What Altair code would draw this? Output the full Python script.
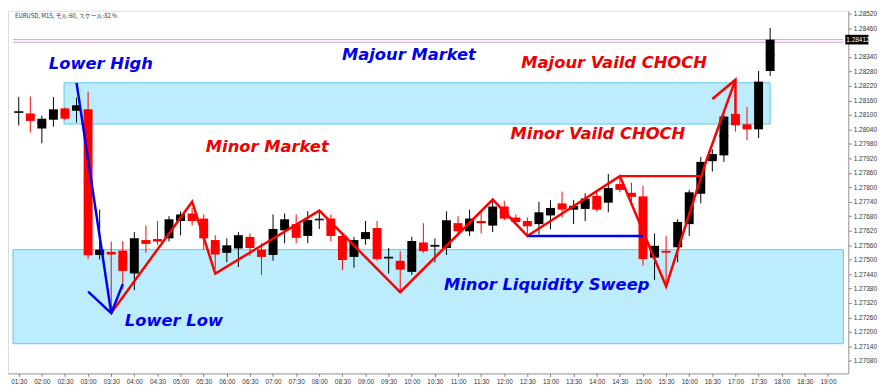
import json
import altair as alt
import pandas as pd

# ---- candle data (15-minute candles, index 0 = 01:30) ----
opens = [1.28110, 1.28106, 1.28044, 1.28080, 1.28127, 1.28117, 1.28123, 1.27519, 1.27532, 1.27537,
         1.27442, 1.27581, 1.27585, 1.27588, 1.27660, 1.27691, 1.27670, 1.27581, 1.27528, 1.27546,
         1.27594, 1.27541, 1.27519, 1.27621, 1.27647, 1.27598, 1.27665, 1.27670, 1.27598, 1.27511,
         1.27585, 1.27631, 1.27506, 1.27495, 1.27449, 1.27571, 1.27555, 1.27548, 1.27651, 1.27617,
         1.27660, 1.27641, 1.27720, 1.27674, 1.27660, 1.27647, 1.27683, 1.27733, 1.27707, 1.27710,
         1.27764, 1.27736, 1.27813, 1.27777, 1.27762, 1.27508, 1.27535, 1.27551, 1.27647, 1.27773,
         1.27908, 1.27932, 1.28104, 1.28061, 1.28040, 1.28282]
highs = [1.28175, 1.28176, 1.28097, 1.28174, 1.28131, 1.28171, 1.28196, 1.27707, 1.27575, 1.27577,
         1.27614, 1.27641, 1.27660, 1.27680, 1.27700, 1.27714, 1.27687, 1.27601, 1.27588, 1.27614,
         1.27608, 1.27568, 1.27687, 1.27691, 1.27687, 1.27700, 1.27700, 1.27687, 1.27608, 1.27594,
         1.27660, 1.27660, 1.27548, 1.27535, 1.27594, 1.27651, 1.27588, 1.27700, 1.27680, 1.27707,
         1.27700, 1.27753, 1.27744, 1.27687, 1.27675, 1.27740, 1.27746, 1.27782, 1.27746, 1.27775,
         1.27786, 1.27855, 1.27842, 1.27819, 1.27806, 1.27608, 1.27598, 1.27667, 1.27789, 1.27925,
         1.27958, 1.28100, 1.28110, 1.28133, 1.28282, 1.28461]
lows = [1.28056, 1.28027, 1.27982, 1.28051, 1.28078, 1.28068, 1.27502, 1.27500, 1.27278, 1.27377,
        1.27373, 1.27528, 1.27561, 1.27575, 1.27601, 1.27641, 1.27541, 1.27461, 1.27489, 1.27469,
        1.27516, 1.27436, 1.27495, 1.27568, 1.27568, 1.27568, 1.27627, 1.27575, 1.27456, 1.27466,
        1.27561, 1.27495, 1.27442, 1.27363, 1.27436, 1.27528, 1.27489, 1.27519, 1.27604, 1.27598,
        1.27608, 1.27614, 1.27663, 1.27647, 1.27599, 1.27604, 1.27625, 1.27674, 1.27647, 1.27660,
        1.27700, 1.27696, 1.27779, 1.27727, 1.27475, 1.27416, 1.27396, 1.27489, 1.27598, 1.27733,
        1.27865, 1.27905, 1.28031, 1.27995, 1.28004, 1.28262]
closes = [1.28113, 1.28075, 1.28084, 1.28123, 1.28084, 1.28140, 1.27518, 1.27541, 1.27521, 1.27453,
          1.27588, 1.27565, 1.27575, 1.27667, 1.27687, 1.27660, 1.27588, 1.27521, 1.27559, 1.27601,
          1.27548, 1.27511, 1.27627, 1.27667, 1.27590, 1.27664, 1.27667, 1.27598, 1.27498, 1.27581,
          1.27614, 1.27502, 1.27510, 1.27458, 1.27577, 1.27535, 1.27559, 1.27663, 1.27617, 1.27670,
          1.27651, 1.27720, 1.27670, 1.27656, 1.27638, 1.27696, 1.27714, 1.27707, 1.27723, 1.27753,
          1.27707, 1.27797, 1.27789, 1.27760, 1.27502, 1.27557, 1.27530, 1.27656, 1.27779, 1.27905,
          1.27938, 1.28093, 1.28057, 1.28040, 1.28238, 1.28412]

# ---- axis labels ----
tick_labels = ["01:30", "02:00", "02:30", "03:00", "03:30", "04:00", "04:30", "05:00", "05:30",
               "06:00", "06:30", "07:00", "07:30", "08:00", "08:30", "09:00", "09:30", "10:00",
               "10:30", "11:00", "11:30", "12:00", "12:30", "13:00", "13:30", "14:00", "14:30",
               "15:00", "15:30", "16:00", "16:30", "17:00", "17:30", "18:00", "18:30", "19:00"]
price_ticks = [1.27080, 1.27140, 1.27200, 1.27260, 1.27320, 1.27380, 1.27440, 1.27500, 1.27560,
               1.27620, 1.27680, 1.27740, 1.27800, 1.27860, 1.27920, 1.27980, 1.28040, 1.28100,
               1.28160, 1.28220, 1.28280, 1.28340, 1.28460, 1.28520]
current_price = 1.28412
info_text = "EURUSD, M15, モル:60, スケール:82 %"

# ---- zones ----
zone_x = [3.92, -0.5]
zone_x2 = [65.0, 71.33]
zone_y = [1.28233, 1.27541]
zone_y2 = [1.28062, 1.27151]
purple_levels = [1.28412, 1.28401]

# ---- annotation lines ----
red_path_x = [8.0, 15.0, 17.0, 26.0, 33.0, 41.0, 44.0, 52.0, 56.0, 59.5, 62.0]
red_path_y = [1.27278, 1.27740, 1.27442, 1.27703, 1.27365, 1.27749, 1.27598, 1.27846, 1.27389, 1.27913, 1.28246]
red_level_x = [52.0, 59.1]
red_level_y = [1.27846, 1.27846]
red_head_x = [60.0, 62.0, 62.0]
red_head_y = [1.28166, 1.28246, 1.28104]
blue_path_x = [5.0, 8.0]
blue_path_y = [1.28233, 1.27278]
blue_head_x = [6.0, 8.0, 9.0]
blue_head_y = [1.27367, 1.27278, 1.27398]
blue_level_x = [44.0, 54.0]
blue_level_y = [1.27598, 1.27598]

# ---- annotation texts ----
note_text = ["Lower High", "Majour Market", "Majour Vaild CHOCH", "Minor Market",
             "Minor Vaild CHOCH", "Minor Liquidity Sweep", "Lower Low"]
note_x = [7.1, 33.75, 51.5, 21.5, 50.1, 45.67, 13.42]
note_y = [1.28289, 1.28326, 1.28295, 1.27948, 1.27998, 1.27373, 1.27226]
note_col = ["#0000f0", "#0000f0", "#f00000", "#f00000", "#f00000", "#0000f0", "#0000f0"]

# ---------------------------------------------------------------
RED = "#ff0000"
BLUE = "#0000f0"
xs = alt.Scale(domain=[-0.5, 71.33], nice=False, zero=False)
ys = alt.Scale(domain=[1.27028, 1.28532], nice=False, zero=False)

x_axis = alt.Axis(values=list(range(0, 71, 2)),
                  labelExpr=json.dumps(tick_labels) + "[round(datum.value / 2)]",
                  labelFontSize=6.5, labelFont="Liberation Sans", labelColor="#333333",
                  tickSize=3, tickColor="#808080", domainColor="#a0a0a0",
                  labelPadding=2, grid=False, title=None, labelFlush=False)
y_axis = alt.Axis(orient="right", values=price_ticks, format=".5f",
                  labelFontSize=6.5, labelFont="Liberation Sans", labelColor="#333333",
                  tickSize=3, tickColor="#808080", domainColor="#a0a0a0",
                  labelPadding=2, grid=False, title=None, labelFlush=False)


def X(f):
    return alt.X(f, type="quantitative", scale=xs, axis=x_axis)


def Y(f):
    return alt.Y(f, type="quantitative", scale=ys, axis=y_axis)


candles = pd.DataFrame({"i": list(range(len(opens))), "o": opens, "h": highs, "l": lows, "c": closes})
candles["col"] = ["#000000" if c >= o else RED for o, c in zip(opens, closes)]
candles["mid"] = (candles["o"] + candles["c"]) / 2
col = alt.Color("col:N", scale=None)

zones = pd.DataFrame({"x": zone_x, "x2": zone_x2, "y": zone_y, "y2": zone_y2})
zone_layer = alt.Chart(zones).mark_rect(fill="#bdedfc", stroke="#5cc8f0", strokeWidth=1).encode(
    x=X("x"), x2="x2", y=Y("y"), y2="y2")

purple = pd.DataFrame({"y": purple_levels, "x": [-0.5, -0.5], "x2": [71.33, 71.33]})
purple_layer = alt.Chart(purple).mark_rule(color="#cf9fd6", strokeWidth=1).encode(
    x=X("x"), x2="x2", y=Y("y"))

base = alt.Chart(candles)
wicks = base.mark_rule(strokeWidth=1).encode(x=X("i"), y=Y("l"), y2="h", color=col)
bodies = base.mark_bar(size=9).encode(x=X("i"), y=Y("o"), y2="c", color=col)
dashes = base.mark_tick(size=9, thickness=2, orient="horizontal").encode(x=X("i"), y=Y("mid"), color=col)

rows = []
for name, xs_, ys_, colr in [("rp", red_path_x, red_path_y, RED), ("rl", red_level_x, red_level_y, RED),
                             ("rh", red_head_x, red_head_y, RED), ("bp", blue_path_x, blue_path_y, BLUE),
                             ("bh", blue_head_x, blue_head_y, BLUE), ("bl", blue_level_x, blue_level_y, BLUE)]:
    for k, (a, b) in enumerate(zip(xs_, ys_)):
        rows.append({"seg": name, "k": k, "x": a, "y": b, "col": colr})
lines = pd.DataFrame(rows)
line_layer = alt.Chart(lines).mark_line(strokeWidth=2.5, strokeJoin="miter").encode(
    x=X("x"), y=Y("y"), detail="seg:N", order="k:Q", color=alt.Color("col:N", scale=None))

notes = pd.DataFrame({"t": note_text, "x": note_x, "y": note_y, "col": note_col})
note_layer = alt.Chart(notes).mark_text(font="DejaVu Sans", fontSize=16.5, fontWeight="bold",
                                        fontStyle="italic", align="center", baseline="alphabetic").encode(
    x=X("x"), y=Y("y"), text="t:N", color=alt.Color("col:N", scale=None))

info = pd.DataFrame({"t": [info_text], "x": [-0.33], "y": [1.28508]})
info_layer = alt.Chart(info).mark_text(font="Noto Sans CJK JP", fontSize=6, align="left",
                                       baseline="middle", color="#333333").encode(
    x=X("x"), y=Y("y"), text="t:N")

cur = pd.DataFrame({"x": [71.5], "x2": [73.5], "y": [current_price + 0.0002],
                    "y2": [current_price - 0.0002], "p": [current_price]})
cur_box = alt.Chart(cur).mark_rect(color="#000000").encode(x=X("x"), x2="x2", y=Y("y"), y2="y2")
cur_txt = alt.Chart(cur).mark_text(font="Liberation Sans", fontSize=6.5, align="left", baseline="middle",
                                   color="#ffffff", dx=1).encode(
    x=X("x"), y=Y("p"), text=alt.Text("p:Q", format=".5f"))

chart = alt.layer(zone_layer, purple_layer, wicks, bodies, dashes, line_layer, note_layer,
                  info_layer, cur_box, cur_txt).properties(
    width=848, height=366, padding={"left": 0, "top": 0, "right": 1, "bottom": 0}
).configure_view(stroke="#a0a0a0", strokeWidth=1).configure(background="#ffffff")

chart.save("out.html", embed_options={"renderer": "svg", "actions": False})
